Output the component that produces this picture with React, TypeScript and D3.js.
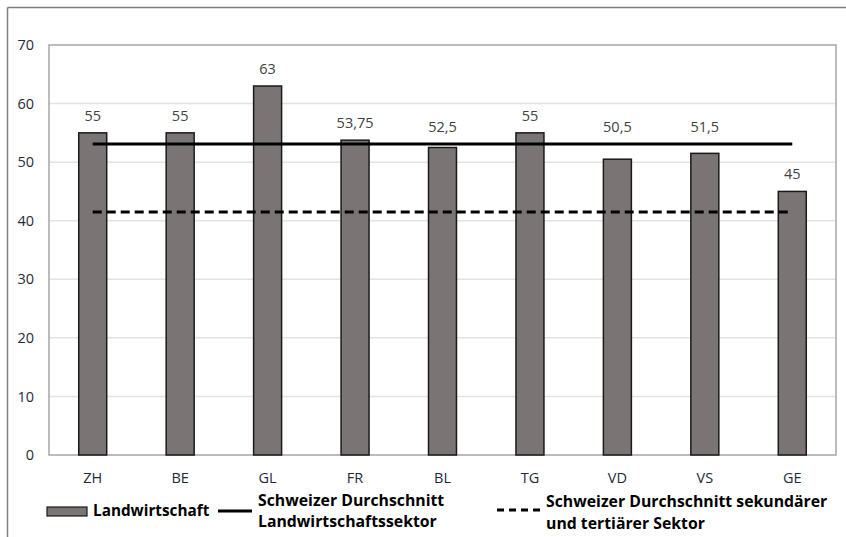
import React from "react";
import * as d3 from "d3";

const categories = ["ZH", "BE", "GL", "FR", "BL", "TG", "VD", "VS", "GE"];
const values = [55, 55, 63, 53.75, 52.5, 55, 50.5, 51.5, 45];
const valueLabels = ["55", "55", "63", "53,75", "52,5", "55", "50,5", "51,5", "45"];
const avgAgri = 53.1;
const avgOther = 41.5;
const yTicks = [0, 10, 20, 30, 40, 50, 60, 70];
const legendLabels = [
  ["Landwirtschaft"],
  ["Schweizer Durchschnitt", "Landwirtschaftssektor"],
  ["Schweizer Durchschnitt sekundärer", "und tertiärer Sektor"],
];

const W = 846;
const H = 537;
const m = { left: 49, right: 836, top: 45, bottom: 455 };
const font = "'Open Sans', sans-serif";

export default function App() {
  const x = d3.scaleBand<string>().domain(categories).range([m.left, m.right]).paddingInner(0.68).paddingOuter(0.34);
  const y = d3.scaleLinear().domain([0, 70]).range([m.bottom, m.top]);
  const bw = x.bandwidth();
  const cx = (c: string) => (x(c) as number) + bw / 2;
  const x0 = cx(categories[0]);
  const x1 = cx(categories[categories.length - 1]);
  // labels of bars lying below the average line are lifted above it
  const labelY = (v: number) => (v < avgAgri && v > avgOther + 5 ? y(avgAgri) : y(v)) - 12;

  return (
    <svg width={W} height={H} style={{ position: "absolute", left: 0, top: 0, background: "#fff" }} fontFamily={font}>
      <rect x={0} y={0} width={W} height={H} fill="#fff" />
      {/* outer frame */}
      <line x1={7.5} y1={7.5} x2={W} y2={7.5} stroke="#7f7f7f" strokeWidth={1.5} />
      <line x1={7.5} y1={7.5} x2={7.5} y2={H} stroke="#7f7f7f" strokeWidth={1.5} />
      {/* gridlines */}
      {yTicks.slice(1, -1).map((t) => (
        <line key={t} x1={m.left} x2={m.right} y1={y(t)} y2={y(t)} stroke="#e3e3e3" strokeWidth={1.5} />
      ))}
      {/* plot border */}
      <rect x={m.left} y={m.top} width={m.right - m.left} height={m.bottom - m.top} fill="none" stroke="#a6a6a6" strokeWidth={1.5} />
      {/* y tick labels */}
      {yTicks.map((t) => (
        <text key={t} x={34} y={y(t)} dy="0.35em" textAnchor="end" fontSize={14.5} fill="#1f2a3a">
          {t}
        </text>
      ))}
      {/* bars */}
      {categories.map((c, i) => (
        <rect key={c} x={x(c)} y={y(values[i])} width={bw} height={y(0) - y(values[i])} fill="#7a7574" stroke="#1a1a1a" strokeWidth={1.5} />
      ))}
      {/* value labels */}
      {categories.map((c, i) => (
        <text key={c} x={cx(c)} y={labelY(values[i])} textAnchor="middle" fontSize={14.5} fill="#404040">
          {valueLabels[i]}
        </text>
      ))}
      {/* x labels */}
      {categories.map((c) => (
        <text key={c} x={cx(c)} y={478} dy="0.35em" textAnchor="middle" fontSize={14.5} fill="#1f2a3a">
          {c}
        </text>
      ))}
      {/* average lines */}
      <line x1={x0} x2={x1} y1={y(avgAgri)} y2={y(avgAgri)} stroke="#000" strokeWidth={3} />
      <line x1={x0} x2={x1} y1={y(avgOther)} y2={y(avgOther)} stroke="#000" strokeWidth={3} strokeDasharray="9,5" />
      {/* legend */}
      <rect x={47} y={507} width={40} height={9} fill="#7a7574" stroke="#1a1a1a" strokeWidth={1.2} />
      <text x={93} y={511} dy="0.35em" fontSize={15.3} fontWeight="bold" fill="#000">
        {legendLabels[0][0]}
      </text>
      <line x1={218} x2={252} y1={511} y2={511} stroke="#000" strokeWidth={3} />
      <text x={258} y={500} dy="0.35em" fontSize={15.8} fontWeight="bold" fill="#000">
        {legendLabels[1][0]}
      </text>
      <text x={258} y={521} dy="0.35em" fontSize={15.8} fontWeight="bold" fill="#000">
        {legendLabels[1][1]}
      </text>
      <line x1={497} x2={541} y1={510} y2={510} stroke="#000" strokeWidth={3} strokeDasharray="7,5" />
      <text x={546} y={501} dy="0.35em" fontSize={15.8} fontWeight="bold" fill="#000">
        {legendLabels[2][0]}
      </text>
      <text x={546} y={523} dy="0.35em" fontSize={15.8} fontWeight="bold" fill="#000">
        {legendLabels[2][1]}
      </text>
    </svg>
  );
}
